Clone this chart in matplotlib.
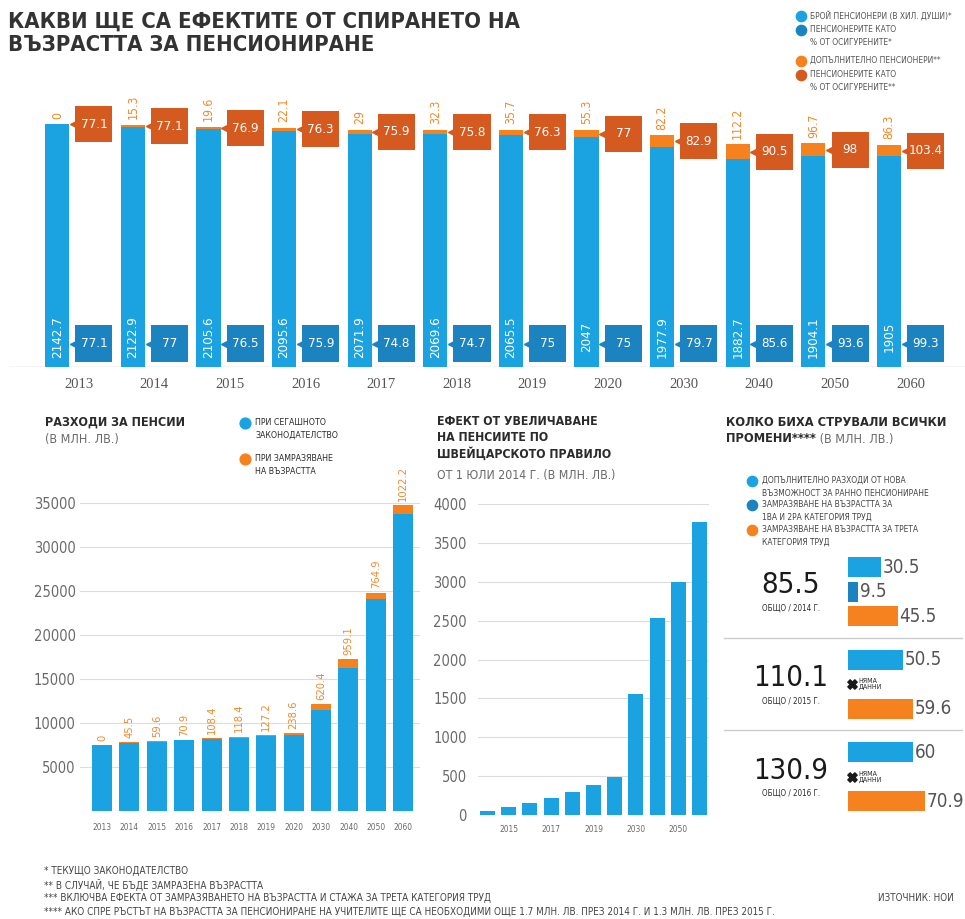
"""
Инфографика: ефекти от спирането на възрастта за пенсиониране
"""

import matplotlib.pyplot as plt

plt.rcParams['font.family'] = ['DejaVu Sans']
plt.rcParams['font.stretch'] = 'condensed'
plt.rcParams['font.size'] = 10

# ============================================================================
# ДАННИ
# ============================================================================
years = ['2013', '2014', '2015', '2016', '2017', '2018', '2019', '2020',
         '2030', '2040', '2050', '2060']

# горна графика
pensioners = [2142.7, 2122.9, 2105.6, 2095.6, 2071.9, 2069.6, 2065.5, 2047,
              1977.9, 1882.7, 1904.1, 1905]
extra_pensioners = [0, 15.3, 19.6, 22.1, 29, 32.3, 35.7, 55.3, 82.2, 112.2, 96.7, 86.3]
ratio_current = [77.1, 77, 76.5, 75.9, 74.8, 74.7, 75, 75, 79.7, 85.6, 93.6, 99.3]
ratio_frozen = [77.1, 77.1, 76.9, 76.3, 75.9, 75.8, 76.3, 77, 82.9, 90.5, 98, 103.4]

# разходи за пенсии
exp_current = [7500, 7760, 7880, 8030, 8140, 8330, 8520, 8600, 11480, 16280, 24050, 33720]
exp_frozen = [0, 45.5, 59.6, 70.9, 108.4, 118.4, 127.2, 238.6, 620.4, 959.1, 764.9, 1022.2]

# швейцарско правило
swiss_years = ['2014', '2015', '2016', '2017', '2018', '2019', '2020',
               '2030', '2040', '2050', '2060']
swiss_effect = [55, 105, 150, 215, 290, 380, 490, 1560, 2530, 3000, 3770]
swiss_shown = ['2015', '2017', '2019', '2030', '2050']

# колко биха стрували всички промени
cost_years = ['2014', '2015', '2016']
cost_total = [85.5, 110.1, 130.9]
cost_early = [30.5, 50.5, 60]
cost_cat12 = [9.5, None, None]
cost_cat3 = [45.5, 59.6, 70.9]

# цветове
BLUE = '#1aa2e1'
TEAL = '#1b84c0'
ORANGE = '#f5821f'
DORANGE = '#d55a20'
GRAY = '#6a6a6a'
DARK = '#2b2b2b'
GRID = '#dcdcdc'

W, H = 965, 919
fig = plt.figure(figsize=(W / 100, H / 100), dpi=100)


def px_axes(left, top, right, bottom):
    return fig.add_axes([left / W, 1 - bottom / H, (right - left) / W, (bottom - top) / H])


def clean(ax):
    for s in ax.spines.values():
        s.set_visible(False)


# ============================================================================
# ГОРНА ГРАФИКА
# ============================================================================
ax = px_axes(10, 95, 965, 367)
clean(ax)
ax.set_xlim(-0.91, 11.72)
ax.set_ylim(340, 2361)
box_h = 267
for i in range(len(years)):
    xb = i - 0.285
    xbox = i + 0.2
    total = pensioners[i] + extra_pensioners[i]
    ax.bar(xb, pensioners[i] - 340, bottom=340, width=0.32, color=BLUE, zorder=2)
    ax.bar(xb, extra_pensioners[i], bottom=pensioners[i], width=0.32, color=ORANGE, zorder=2)
    ax.annotate(f'{extra_pensioners[i]:g}', (xb, total), xytext=(0, 4),
                textcoords='offset points', rotation=90, ha='center', va='bottom',
                color='#f08a2c', fontsize=8.8)
    ax.text(xb, 563, f'{pensioners[i]:g}', rotation=90, ha='center', va='center',
            color='white', fontsize=9.5)
    # кутия - текущо законодателство
    ax.bar(xbox, 275, bottom=377, width=0.49, color=TEAL, zorder=2)
    ax.plot(xbox - 0.265, 514, marker='<', ms=6, color=TEAL, zorder=3)
    ax.text(xbox, 514, f'{ratio_current[i]:g}', ha='center', va='center',
            color='white', fontsize=9.5, zorder=4)
    # кутия - замразена възраст, сочи средата на оранжевия сегмент
    yc = pensioners[i] + extra_pensioners[i] / 2
    ax.bar(xbox, box_h, bottom=yc - box_h / 2, width=0.49, color=DORANGE, zorder=2)
    ax.plot(xbox - 0.265, yc, marker='<', ms=6, color=DORANGE, zorder=3)
    ax.text(xbox, yc, f'{ratio_frozen[i]:g}', ha='center', va='center',
            color='white', fontsize=9.5, zorder=4)
ax.axhline(340, color='#cfcfcf', lw=1, zorder=1)
ax.set_yticks([])
ax.set_xticks(range(len(years)))
ax.set_xticklabels(years, family='Liberation Serif', fontsize=10.5, color='#555555')
ax.tick_params(axis='x', length=0, pad=8)

# ============================================================================
# РАЗХОДИ ЗА ПЕНСИИ
# ============================================================================
ax2 = px_axes(80, 480, 420, 811)
clean(ax2)
ax2.set_xlim(-0.8, 11.61)
ax2.set_ylim(0, 37600)
x2 = range(len(years))
ax2.bar(x2, exp_current, width=0.73, color=BLUE, zorder=2)
ax2.bar(x2, exp_frozen, bottom=exp_current, width=0.73, color=ORANGE, zorder=2)
for i in x2:
    ax2.annotate(f'{exp_frozen[i]:g}', (i, exp_current[i] + exp_frozen[i]),
                 xytext=(0, 3), textcoords='offset points', rotation=90,
                 ha='center', va='bottom', color='#f08a2c', fontsize=8)
ax2.set_yticks(range(5000, 35001, 5000))
ax2.set_yticklabels([str(v) for v in range(5000, 35001, 5000)], fontsize=10.5, color=GRAY)
ax2.grid(axis='y', color=GRID, lw=0.8, zorder=0)
ax2.axhline(0, color=GRID, lw=0.8, zorder=0)
ax2.set_xticks(list(x2))
ax2.set_xticklabels(years, fontsize=6, color=GRAY)
ax2.tick_params(length=0)
ax2.tick_params(axis='y', pad=3)
ax2.tick_params(axis='x', pad=9)

# ============================================================================
# ШВЕЙЦАРСКО ПРАВИЛО
# ============================================================================
ax3 = px_axes(478, 504, 709, 815)
clean(ax3)
ax3.set_xlim(-0.45, 10.45)
ax3.set_ylim(0, 4000)
ax3.bar(range(len(swiss_years)), swiss_effect, width=0.71, color=BLUE, zorder=2)
ax3.set_yticks(range(0, 4001, 500))
ax3.set_yticklabels([str(v) for v in range(0, 4001, 500)], fontsize=10.5, color=GRAY)
ax3.grid(axis='y', color=GRID, lw=0.8, zorder=0)
ax3.set_xticks([swiss_years.index(y) for y in swiss_shown])
ax3.set_xticklabels(swiss_shown, fontsize=6, color=GRAY)
ax3.tick_params(length=0)
ax3.tick_params(axis='y', pad=8)
ax3.tick_params(axis='x', pad=7)

# ============================================================================
# КОЛКО БИХА СТРУВАЛИ ВСИЧКИ ПРОМЕНИ
# ============================================================================
ax4 = px_axes(848, 545, 965, 825)
ax4.axis('off')
ax4.set_xlim(0, 107.3)
ax4.set_ylim(10.53, -0.9)
step = 3.78
for g in range(len(cost_years)):
    y0 = g * step
    rows = [(cost_early[g], BLUE), (cost_cat12[g], TEAL), (cost_cat3[g], ORANGE)]
    for k, (v, c) in enumerate(rows):
        if v is None:
            ax4.scatter(3.7, y0 + k, marker='X', s=45, color='#1a1a1a', clip_on=False)
            ax4.text(9.5, y0 + k, 'НЯМА\nДАННИ', fontsize=5, color=DARK,
                     va='center', linespacing=1.0)
            continue
        ax4.barh(y0 + k, v, height=0.82, color=c)
        ax4.text(v + 1.2, y0 + k, f'{v:g}', va='center', ha='left',
                 fontsize=13.5, color='#555555', clip_on=False)
    ax4.text(-52.3, y0 + 0.75, f'{cost_total[g]:g}', ha='center', va='center',
             fontsize=21, color='#1a1a1a', clip_on=False)
    ax4.text(-52.3, y0 + 1.68, f'ОБЩО / {cost_years[g]} Г.', ha='center', va='center',
             fontsize=5.8, color=DARK, clip_on=False)

# ============================================================================
# ТЕКСТОВЕ (в пиксели)
# ============================================================================
ov = fig.add_axes([0, 0, 1, 1])
ov.set_xlim(0, W)
ov.set_ylim(H, 0)
ov.axis('off')
ov.patch.set_alpha(0)

ov.text(8, 12, 'КАКВИ ЩЕ СА ЕФЕКТИТЕ ОТ СПИРАНЕТО НА\nВЪЗРАСТТА ЗА ПЕНСИОНИРАНЕ',
        fontsize=15.8, fontweight='bold', color='#333333', va='top', linespacing=1.2)

# легенда горе
top_leg = [(16, BLUE, 'БРОЙ ПЕНСИОНЕРИ (В ХИЛ. ДУШИ)*'),
           (30, TEAL, 'ПЕНСИОНЕРИТЕ КАТО\n% ОТ ОСИГУРЕНИТЕ*'),
           (61, ORANGE, 'ДОПЪЛНИТЕЛНО ПЕНСИОНЕРИ**'),
           (75, DORANGE, 'ПЕНСИОНЕРИТЕ КАТО\n% ОТ ОСИГУРЕНИТЕ**')]
for y, c, t in top_leg:
    ov.scatter(801, y, s=55, color=c)
    ov.text(810, y - 5, t, fontsize=6, color='#555555', va='top', linespacing=1.6)

# разходи за пенсии - заглавие и легенда
ov.text(45, 422, 'РАЗХОДИ ЗА ПЕНСИИ', fontsize=9, fontweight='bold', color=DARK, va='center')
ov.text(45, 439, '(В МЛН. ЛВ.)', fontsize=9, color=GRAY, va='center')
ov.scatter(245, 423, s=60, color=BLUE)
ov.text(255, 418, 'ПРИ СЕГАШНОТО\nЗАКОНОДАТЕЛСТВО', fontsize=6.3, color=DARK, va='top', linespacing=1.5)
ov.scatter(245, 459, s=60, color=ORANGE)
ov.text(255, 454, 'ПРИ ЗАМРАЗЯВАНЕ\nНА ВЪЗРАСТТА', fontsize=6.3, color=DARK, va='top', linespacing=1.5)

# швейцарско правило - заглавие
ov.text(437, 415, 'ЕФЕКТ ОТ УВЕЛИЧАВАНЕ\nНА ПЕНСИИТЕ ПО\nШВЕЙЦАРСКОТО ПРАВИЛО',
        fontsize=8.8, fontweight='bold', color=DARK, va='top', linespacing=1.3)
ov.text(437, 475, 'ОТ 1 ЮЛИ 2014 Г. (В МЛН. ЛВ.)', fontsize=8.8, color=GRAY, va='center')

# всички промени - заглавие и легенда
ov.text(726, 422, 'КОЛКО БИХА СТРУВАЛИ ВСИЧКИ', fontsize=9.2, fontweight='bold',
        color=DARK, va='center')
t = ov.text(726, 439, 'ПРОМЕНИ****', fontsize=9.2, fontweight='bold', color=DARK, va='center')
ov.annotate(' (В МЛН. ЛВ.)', xycoords=t, xy=(1, 0.5), va='center', fontsize=9, color=GRAY)
right_leg = [(481, BLUE, 'ДОПЪЛНИТЕЛНО РАЗХОДИ ОТ НОВА\nВЪЗМОЖНОСТ ЗА РАННО ПЕНСИОНИРАНЕ'),
             (505, TEAL, 'ЗАМРАЗЯВАНЕ НА ВЪЗРАСТТА ЗА\n1ВА И 2РА КАТЕГОРИЯ ТРУД'),
             (530, ORANGE, 'ЗАМРАЗЯВАНЕ НА ВЪЗРАСТТА ЗА ТРЕТА\nКАТЕГОРИЯ ТРУД')]
for y, c, txt in right_leg:
    ov.scatter(752, y, s=55, color=c)
    ov.text(762, y - 5, txt, fontsize=6, color='#444444', va='top', linespacing=1.55)
for y in (638, 730):
    ov.plot([724, 962], [y, y], color='#cccccc', lw=1)

# бележки
notes = ['* ТЕКУЩО ЗАКОНОДАТЕЛСТВО',
         '** В СЛУЧАЙ, ЧЕ БЪДЕ ЗАМРАЗЕНА ВЪЗРАСТТА',
         '*** ВКЛЮЧВА ЕФЕКТА ОТ ЗАМРАЗЯВАНЕТО НА ВЪЗРАСТТА И СТАЖА ЗА ТРЕТА КАТЕГОРИЯ ТРУД',
         '**** АКО СПРЕ РЪСТЪТ НА ВЪЗРАСТТА ЗА ПЕНСИОНИРАНЕ НА УЧИТЕЛИТЕ ЩЕ СА НЕОБХОДИМИ '
         'ОЩЕ 1.7 МЛН. ЛВ. ПРЕЗ 2014 Г. И 1.3 МЛН. ЛВ. ПРЕЗ 2015 Г.']
for k, n in enumerate(notes):
    ov.text(44, 871 + k * 13.5, n, fontsize=7.1, color='#444444', va='center')
ov.text(878, 898, 'ИЗТОЧНИК: НОИ', fontsize=7, color='#444444', va='center')

plt.savefig('out.png', dpi=100, facecolor='white')
